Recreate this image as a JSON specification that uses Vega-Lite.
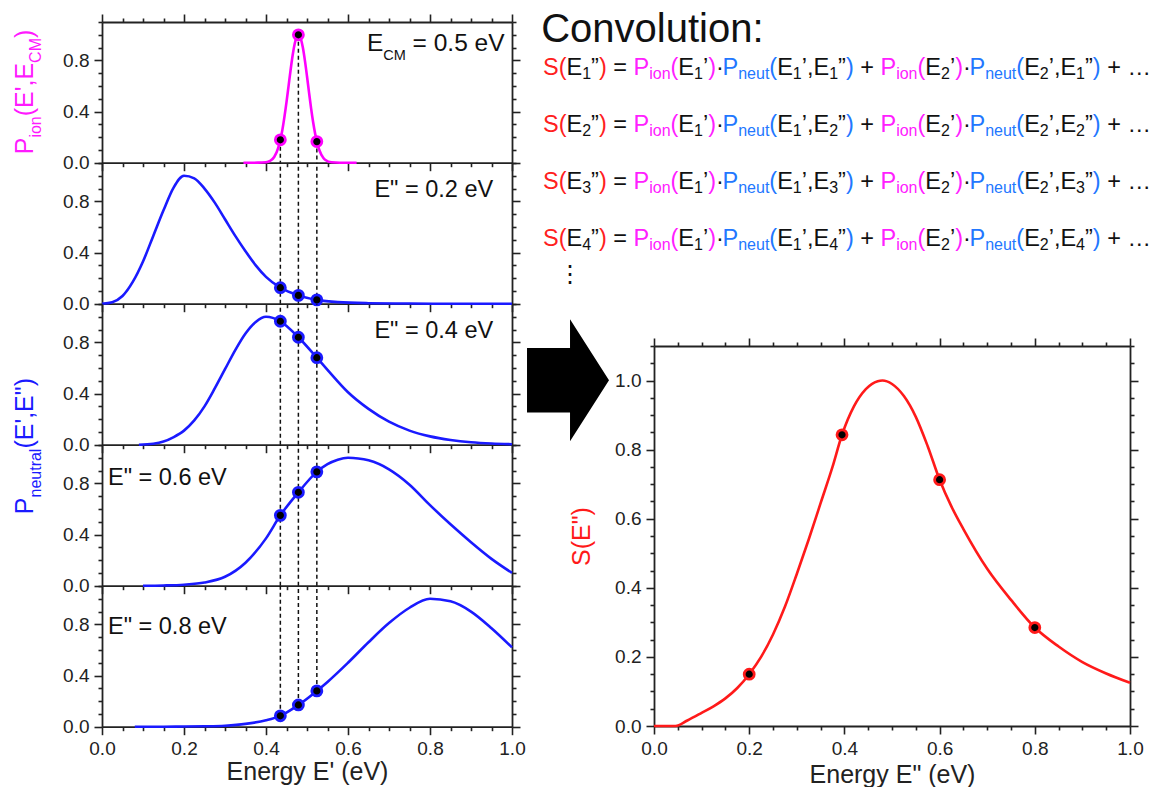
{
  "$schema": "https://vega.github.io/schema/vega-lite/v6.json",
  "padding": {"left": 13, "top": 9, "right": 0, "bottom": 0},
  "background": "white",
  "config": {
    "view": {"stroke": null},
    "font": "Liberation Sans",
    "axis": {
      "domainColor": "#222", "domainWidth": 1.8, "tickColor": "#222", "tickWidth": 1.6,
      "labelFont": "Liberation Sans", "labelFontSize": 19, "labelColor": "#222", "labelPadding": 5,
      "titleFont": "Liberation Sans", "titleFontSize": 25, "titleFontWeight": "normal", "titleColor": "#222",
      "grid": false, "labelFlush": false, "labelOverlap": false
    },
    "text": {"font": "Liberation Sans"}
  },
  "datasets": {
    "ion": [
      {"E":0.345,"P":0},{"E":0.38,"P":0.0002},{"E":0.4,"P":0.004},{"E":0.41,"P":0.0145},{"E":0.42,"P":0.045},
      {"E":0.43,"P":0.118},{"E":0.435,"P":0.179},{"E":0.44,"P":0.258},{"E":0.45,"P":0.473},{"E":0.455,"P":0.599},
      {"E":0.46,"P":0.725},{"E":0.465,"P":0.84},{"E":0.47,"P":0.93},{"E":0.475,"P":0.986},{"E":0.479,"P":1.0},
      {"E":0.485,"P":0.968},{"E":0.49,"P":0.898},{"E":0.495,"P":0.796},{"E":0.5,"P":0.676},{"E":0.505,"P":0.548},
      {"E":0.51,"P":0.425},{"E":0.515,"P":0.316},{"E":0.524,"P":0.165},{"E":0.53,"P":0.099},{"E":0.54,"P":0.037},
      {"E":0.545,"P":0.021},{"E":0.56,"P":0.003},{"E":0.58,"P":0},{"E":0.621,"P":0}
    ],
    "neutral": [
      {"panel":2,"E":0,"P":0},{"panel":2,"E":0.025,"P":0.012},{"panel":2,"E":0.05,"P":0.06},{"panel":2,"E":0.075,"P":0.17},
      {"panel":2,"E":0.1,"P":0.33},{"panel":2,"E":0.125,"P":0.53},{"panel":2,"E":0.15,"P":0.73},{"panel":2,"E":0.175,"P":0.91},
      {"panel":2,"E":0.2,"P":1.0},{"panel":2,"E":0.225,"P":0.98},{"panel":2,"E":0.25,"P":0.9},{"panel":2,"E":0.275,"P":0.79},
      {"panel":2,"E":0.3,"P":0.66},{"panel":2,"E":0.325,"P":0.53},{"panel":2,"E":0.35,"P":0.41},{"panel":2,"E":0.375,"P":0.3},
      {"panel":2,"E":0.4,"P":0.21},{"panel":2,"E":0.435,"P":0.125},{"panel":2,"E":0.479,"P":0.065},{"panel":2,"E":0.524,"P":0.03},
      {"panel":2,"E":0.575,"P":0.012},{"panel":2,"E":0.65,"P":0.004},{"panel":2,"E":0.75,"P":0.001},{"panel":2,"E":0.85,"P":0},{"panel":2,"E":1.0,"P":0},

      {"panel":3,"E":0.09,"P":0},{"panel":3,"E":0.125,"P":0.008},{"panel":3,"E":0.15,"P":0.025},{"panel":3,"E":0.175,"P":0.06},
      {"panel":3,"E":0.2,"P":0.11},{"panel":3,"E":0.225,"P":0.19},{"panel":3,"E":0.25,"P":0.3},{"panel":3,"E":0.275,"P":0.44},
      {"panel":3,"E":0.3,"P":0.59},{"panel":3,"E":0.325,"P":0.74},{"panel":3,"E":0.35,"P":0.87},{"panel":3,"E":0.375,"P":0.96},
      {"panel":3,"E":0.4,"P":1.0},{"panel":3,"E":0.435,"P":0.965},{"panel":3,"E":0.479,"P":0.84},{"panel":3,"E":0.524,"P":0.68},
      {"panel":3,"E":0.55,"P":0.585},{"panel":3,"E":0.6,"P":0.41},{"panel":3,"E":0.65,"P":0.28},{"panel":3,"E":0.7,"P":0.18},
      {"panel":3,"E":0.75,"P":0.11},{"panel":3,"E":0.8,"P":0.065},{"panel":3,"E":0.85,"P":0.037},{"panel":3,"E":0.9,"P":0.019},
      {"panel":3,"E":0.95,"P":0.009},{"panel":3,"E":1.0,"P":0.004},

      {"panel":4,"E":0.1,"P":0},{"panel":4,"E":0.15,"P":0.002},{"panel":4,"E":0.2,"P":0.008},{"panel":4,"E":0.25,"P":0.025},
      {"panel":4,"E":0.3,"P":0.07},{"panel":4,"E":0.35,"P":0.18},{"panel":4,"E":0.4,"P":0.37},{"panel":4,"E":0.435,"P":0.55},
      {"panel":4,"E":0.479,"P":0.73},{"panel":4,"E":0.524,"P":0.89},{"panel":4,"E":0.55,"P":0.95},{"panel":4,"E":0.575,"P":0.985},
      {"panel":4,"E":0.6,"P":1.0},{"panel":4,"E":0.625,"P":0.995},{"panel":4,"E":0.65,"P":0.98},{"panel":4,"E":0.7,"P":0.91},
      {"panel":4,"E":0.75,"P":0.79},{"panel":4,"E":0.8,"P":0.63},{"panel":4,"E":0.85,"P":0.48},{"panel":4,"E":0.9,"P":0.34},
      {"panel":4,"E":0.95,"P":0.21},{"panel":4,"E":1.0,"P":0.1},

      {"panel":5,"E":0.08,"P":0},{"panel":5,"E":0.15,"P":0},{"panel":5,"E":0.2,"P":0.001},{"panel":5,"E":0.25,"P":0.003},
      {"panel":5,"E":0.3,"P":0.008},{"panel":5,"E":0.35,"P":0.022},{"panel":5,"E":0.4,"P":0.05},{"panel":5,"E":0.435,"P":0.085},
      {"panel":5,"E":0.479,"P":0.17},{"panel":5,"E":0.524,"P":0.28},{"panel":5,"E":0.55,"P":0.35},{"panel":5,"E":0.6,"P":0.5},
      {"panel":5,"E":0.65,"P":0.66},{"panel":5,"E":0.7,"P":0.81},{"panel":5,"E":0.75,"P":0.93},{"panel":5,"E":0.8,"P":1.0},
      {"panel":5,"E":0.85,"P":0.98},{"panel":5,"E":0.9,"P":0.9},{"panel":5,"E":0.95,"P":0.77},{"panel":5,"E":1.0,"P":0.62}
    ],
    "samples": [
      {"panel":1,"E":0.435,"P":0.179},{"panel":1,"E":0.479,"P":1.0},{"panel":1,"E":0.524,"P":0.165},
      {"panel":2,"E":0.435,"P":0.125},{"panel":2,"E":0.479,"P":0.065},{"panel":2,"E":0.524,"P":0.03},
      {"panel":3,"E":0.435,"P":0.965},{"panel":3,"E":0.479,"P":0.84},{"panel":3,"E":0.524,"P":0.68},
      {"panel":4,"E":0.435,"P":0.55},{"panel":4,"E":0.479,"P":0.73},{"panel":4,"E":0.524,"P":0.89},
      {"panel":5,"E":0.435,"P":0.085},{"panel":5,"E":0.479,"P":0.17},{"panel":5,"E":0.524,"P":0.28}
    ],
    "guides": [
      {"E":0.435,"p1":0.179,"p5":0.085},{"E":0.479,"p1":1.0,"p5":0.17},{"E":0.524,"p1":0.165,"p5":0.28}
    ],
    "sconv": [
      {"E":0,"S":0},{"E":0.045,"S":0},{"E":0.07,"S":0.016},{"E":0.1,"S":0.038},{"E":0.125,"S":0.057},{"E":0.15,"S":0.08},
      {"E":0.175,"S":0.11},{"E":0.2,"S":0.15},{"E":0.225,"S":0.2},{"E":0.25,"S":0.265},{"E":0.275,"S":0.345},{"E":0.3,"S":0.44},
      {"E":0.325,"S":0.54},{"E":0.35,"S":0.645},{"E":0.375,"S":0.75},{"E":0.395,"S":0.843},{"E":0.42,"S":0.925},{"E":0.445,"S":0.975},
      {"E":0.47,"S":0.998},{"E":0.48,"S":1.0},{"E":0.5,"S":0.99},{"E":0.525,"S":0.955},{"E":0.55,"S":0.895},{"E":0.575,"S":0.81},
      {"E":0.6,"S":0.713},{"E":0.625,"S":0.635},{"E":0.65,"S":0.57},{"E":0.7,"S":0.455},{"E":0.75,"S":0.365},{"E":0.8,"S":0.285},
      {"E":0.85,"S":0.23},{"E":0.9,"S":0.185},{"E":0.95,"S":0.152},{"E":1.0,"S":0.125}
    ],
    "spoints": [
      {"E":0.2,"S":0.15},{"E":0.395,"S":0.843},{"E":0.6,"S":0.713},{"E":0.8,"S":0.285}
    ],
    "eq": [
      {"t":"S(","x":0,"role":"S","sub":0,"line":[1,2,3,4]},
      {"t":"E","x":1000,"role":"plain","sub":0,"line":[1,2,3,4]},
      {"t":"","x":1667,"role":"plain","sub":1,"var":1,"line":[1,2,3,4]},
      {"t":"”","x":2046,"role":"plain","sub":0,"line":[1,2,3,4]},
      {"t":")","x":2379,"role":"S","sub":0,"line":[1,2,3,4]},
      {"t":"=","x":2990,"role":"plain","sub":0,"line":[1,2,3,4]},
      {"t":"P","x":3852,"role":"ion","sub":0,"line":[1,2,3,4]},
      {"t":"ion","x":4519,"role":"ion","sub":1,"line":[1,2,3,4]},
      {"t":"(","x":5427,"role":"ion","sub":0,"line":[1,2,3,4]},
      {"t":"E","x":5760,"role":"plain","sub":0,"line":[1,2,3,4]},
      {"t":"1","x":6427,"role":"plain","sub":1,"line":[1,2,3,4]},
      {"t":"’","x":6806,"role":"plain","sub":0,"line":[1,2,3,4]},
      {"t":")","x":7028,"role":"ion","sub":0,"line":[1,2,3,4]},
      {"t":"·","x":7361,"role":"plain","sub":0,"line":[1,2,3,4]},
      {"t":"P","x":7639,"role":"neut","sub":0,"line":[1,2,3,4]},
      {"t":"neut","x":8306,"role":"neut","sub":1,"line":[1,2,3,4]},
      {"t":"(","x":9631,"role":"neut","sub":0,"line":[1,2,3,4]},
      {"t":"E","x":9964,"role":"plain","sub":0,"line":[1,2,3,4]},
      {"t":"1","x":10631,"role":"plain","sub":1,"line":[1,2,3,4]},
      {"t":"’,E","x":11009,"role":"plain","sub":0,"line":[1,2,3,4]},
      {"t":"","x":12176,"role":"plain","sub":1,"var":1,"line":[1,2,3,4]},
      {"t":"”","x":12555,"role":"plain","sub":0,"line":[1,2,3,4]},
      {"t":")","x":12888,"role":"neut","sub":0,"line":[1,2,3,4]},
      {"t":"+","x":13499,"role":"plain","sub":0,"line":[1,2,3,4]},
      {"t":"P","x":14361,"role":"ion","sub":0,"line":[1,2,3,4]},
      {"t":"ion","x":15028,"role":"ion","sub":1,"line":[1,2,3,4]},
      {"t":"(","x":15936,"role":"ion","sub":0,"line":[1,2,3,4]},
      {"t":"E","x":16269,"role":"plain","sub":0,"line":[1,2,3,4]},
      {"t":"2","x":16936,"role":"plain","sub":1,"line":[1,2,3,4]},
      {"t":"’","x":17315,"role":"plain","sub":0,"line":[1,2,3,4]},
      {"t":")","x":17537,"role":"ion","sub":0,"line":[1,2,3,4]},
      {"t":"·","x":17870,"role":"plain","sub":0,"line":[1,2,3,4]},
      {"t":"P","x":18148,"role":"neut","sub":0,"line":[1,2,3,4]},
      {"t":"neut","x":18815,"role":"neut","sub":1,"line":[1,2,3,4]},
      {"t":"(","x":20140,"role":"neut","sub":0,"line":[1,2,3,4]},
      {"t":"E","x":20473,"role":"plain","sub":0,"line":[1,2,3,4]},
      {"t":"2","x":21140,"role":"plain","sub":1,"line":[1,2,3,4]},
      {"t":"’,E","x":21518,"role":"plain","sub":0,"line":[1,2,3,4]},
      {"t":"","x":22685,"role":"plain","sub":1,"var":1,"line":[1,2,3,4]},
      {"t":"”","x":23064,"role":"plain","sub":0,"line":[1,2,3,4]},
      {"t":")","x":23397,"role":"neut","sub":0,"line":[1,2,3,4]},
      {"t":"+ …","x":24008,"role":"plain","sub":0,"line":[1,2,3,4]}
    ]
  },
  "hconcat": [
    {
      "vconcat": [
        {
          "width": 410, "height": 140.7,
          "resolve": {"axis": {"x": "independent", "y": "independent"}},
          "layer": [
            {
              "data": {"name": "guides"},
              "mark": {"type": "rule", "color": "#111", "strokeWidth": 1.5, "strokeDash": [4, 3]},
              "encoding": {
                "x": {"field": "E", "type": "quantitative", "scale": {"domain": [0, 1], "nice": false}, "axis": null},
                "y": {"field": "p1", "type": "quantitative", "scale": {"domain": [0, 1.1], "nice": false}, "axis": null},
                "y2": {"datum": 0}
              }
            },
            {
              "data": {"name": "ion"},
              "mark": {"type": "line", "color": "#ff00ff", "strokeWidth": 2.6, "interpolate": "monotone"},
              "encoding": {
                "x": {"field": "E", "type": "quantitative", "scale": {"domain": [0, 1], "nice": false},
                  "axis": {"orient": "bottom", "values": [0,0.05,0.1,0.15,0.2,0.25,0.3,0.35,0.4,0.45,0.5,0.55,0.6,0.65,0.7,0.75,0.8,0.85,0.9,0.95,1], "labels": false, "title": null,
                    "tickSize": {"condition": {"test": "abs(datum.value*5-round(datum.value*5))<0.001", "value": 8}, "value": 4}}},
                "y": {"field": "P", "type": "quantitative", "scale": {"domain": [0, 1.1], "nice": false},
                  "axis": {"orient": "left", "values": [0,0.1,0.2,0.3,0.4,0.5,0.6,0.7,0.8,0.9,1,1.1], "title": null,
                    "labelExpr": "abs(datum.value*2.5-round(datum.value*2.5))<0.001 ? format(datum.value,'.1f') : ''",
                    "tickSize": {"condition": {"test": "abs(datum.value*2.5-round(datum.value*2.5))<0.001", "value": 8}, "value": 4}}}
              }
            },
            {
              "data": {"name": "samples"},
              "transform": [{"filter": "datum.panel == 1"}],
              "mark": {"type": "point", "filled": true, "fill": "#000", "stroke": "#ff00ff", "strokeWidth": 2.8, "size": 100, "opacity": 1},
              "encoding": {
                "x": {"field": "E", "type": "quantitative", "scale": {"domain": [0, 1], "nice": false},
                  "axis": {"orient": "top", "values": [0,0.05,0.1,0.15,0.2,0.25,0.3,0.35,0.4,0.45,0.5,0.55,0.6,0.65,0.7,0.75,0.8,0.85,0.9,0.95,1], "labels": false, "title": null,
                    "tickSize": {"condition": {"test": "abs(datum.value*5-round(datum.value*5))<0.001", "value": 8}, "value": 4}}},
                "y": {"field": "P", "type": "quantitative", "scale": {"domain": [0, 1.1], "nice": false},
                  "axis": {"orient": "right", "values": [0,0.1,0.2,0.3,0.4,0.5,0.6,0.7,0.8,0.9,1,1.1], "labels": false, "title": null,
                    "tickSize": {"condition": {"test": "abs(datum.value*2.5-round(datum.value*2.5))<0.001", "value": 8}, "value": 4}}}
              }
            },
            {
              "data": {"values": [{"t": "E", "at": 0.6463}, {"t": "= 0.5 eV", "at": 0.7576}]},
              "mark": {"type": "text", "fontSize": 24.5, "align": "left", "baseline": "alphabetic", "color": "#111"},
              "encoding": {
                "x": {"field": "at", "type": "quantitative", "scale": {"domain": [0, 1], "nice": false}, "axis": null},
                "y": {"datum": 0.871, "type": "quantitative", "scale": {"domain": [0, 1.1], "nice": false}, "axis": null},
                "text": {"field": "t"}
              }
            },
            {
              "data": {"values": [{"t": "CM", "at": 0.6861}]},
              "mark": {"type": "text", "fontSize": 14.5, "align": "left", "baseline": "alphabetic", "dy": 9, "color": "#111"},
              "encoding": {
                "x": {"field": "at", "type": "quantitative", "scale": {"domain": [0, 1], "nice": false}, "axis": null},
                "y": {"datum": 0.871, "type": "quantitative", "scale": {"domain": [0, 1.1], "nice": false}, "axis": null},
                "text": {"field": "t"}
              }
            },
            {
              "data": {"values": [{"t": "P", "at": 0.0657}, {"t": "(E',E", "at": 0.3628}, {"t": ")", "at": 0.9749}]},
              "mark": {"type": "text", "fontSize": 25, "angle": 270, "align": "left", "baseline": "alphabetic", "color": "#ff1aff"},
              "encoding": {
                "x": {"datum": -0.1671, "type": "quantitative", "scale": {"domain": [0, 1], "nice": false}, "axis": null},
                "y": {"field": "at", "type": "quantitative", "scale": {"domain": [0, 1.1], "nice": false}, "axis": null},
                "text": {"field": "t"}
              }
            },
            {
              "data": {"values": [{"t": "ion", "at": 0.1962}, {"t": "CM", "at": 0.7802}]},
              "mark": {"type": "text", "fontSize": 16, "angle": 270, "align": "left", "baseline": "alphabetic", "dy": 8, "color": "#ff1aff"},
              "encoding": {
                "x": {"datum": -0.1671, "type": "quantitative", "scale": {"domain": [0, 1], "nice": false}, "axis": null},
                "y": {"field": "at", "type": "quantitative", "scale": {"domain": [0, 1.1], "nice": false}, "axis": null},
                "text": {"field": "t"}
              }
            }
          ]
        },
        {
          "width": 410, "height": 140.7,
          "resolve": {"axis": {"x": "independent", "y": "independent"}},
          "layer": [
            {
              "data": {"name": "guides"},
              "mark": {"type": "rule", "color": "#111", "strokeWidth": 1.5, "strokeDash": [4, 3]},
              "encoding": {
                "x": {"field": "E", "type": "quantitative", "scale": {"domain": [0, 1], "nice": false}, "axis": null},
                "y": {"datum": 0, "type": "quantitative", "scale": {"domain": [0, 1.1], "nice": false}, "axis": null},
                "y2": {"datum": 1.1}
              }
            },
            {
              "data": {"name": "neutral"},
              "transform": [{"filter": "datum.panel == 2"}],
              "mark": {"type": "line", "color": "#1a1aff", "strokeWidth": 2.6, "interpolate": "monotone"},
              "encoding": {
                "x": {"field": "E", "type": "quantitative", "scale": {"domain": [0, 1], "nice": false},
                  "axis": {"orient": "bottom", "values": [0,0.05,0.1,0.15,0.2,0.25,0.3,0.35,0.4,0.45,0.5,0.55,0.6,0.65,0.7,0.75,0.8,0.85,0.9,0.95,1], "labels": false, "title": null,
                    "tickSize": {"condition": {"test": "abs(datum.value*5-round(datum.value*5))<0.001", "value": 8}, "value": 4}}},
                "y": {"field": "P", "type": "quantitative", "scale": {"domain": [0, 1.1], "nice": false},
                  "axis": {"orient": "left", "values": [0,0.1,0.2,0.3,0.4,0.5,0.6,0.7,0.8,0.9,1,1.1], "title": null,
                    "labelExpr": "abs(datum.value*2.5-round(datum.value*2.5))<0.001 ? format(datum.value,'.1f') : ''",
                    "tickSize": {"condition": {"test": "abs(datum.value*2.5-round(datum.value*2.5))<0.001", "value": 8}, "value": 4}}}
              }
            },
            {
              "data": {"name": "samples"},
              "transform": [{"filter": "datum.panel == 2"}],
              "mark": {"type": "point", "filled": true, "fill": "#000", "stroke": "#1a1aff", "strokeWidth": 2.8, "size": 100, "opacity": 1},
              "encoding": {
                "x": {"field": "E", "type": "quantitative", "scale": {"domain": [0, 1], "nice": false}, "axis": null},
                "y": {"field": "P", "type": "quantitative", "scale": {"domain": [0, 1.1], "nice": false},
                  "axis": {"orient": "right", "values": [0,0.1,0.2,0.3,0.4,0.5,0.6,0.7,0.8,0.9,1,1.1], "labels": false, "title": null,
                    "tickSize": {"condition": {"test": "abs(datum.value*2.5-round(datum.value*2.5))<0.001", "value": 8}, "value": 4}}}
              }
            },
            {
              "data": {"values": [{"t": "E\" = 0.2 eV"}]},
              "mark": {"type": "text", "fontSize": 23.5, "align": "right", "baseline": "alphabetic", "color": "#111"},
              "encoding": {
                "x": {"datum": 0.954, "type": "quantitative", "scale": {"domain": [0, 1], "nice": false}, "axis": null},
                "y": {"datum": 0.836, "type": "quantitative", "scale": {"domain": [0, 1.1], "nice": false}, "axis": null},
                "text": {"field": "t"}
              }
            }
          ]
        },
        {
          "width": 410, "height": 140.7,
          "resolve": {"axis": {"x": "independent", "y": "independent"}},
          "layer": [
            {
              "data": {"name": "guides"},
              "mark": {"type": "rule", "color": "#111", "strokeWidth": 1.5, "strokeDash": [4, 3]},
              "encoding": {
                "x": {"field": "E", "type": "quantitative", "scale": {"domain": [0, 1], "nice": false}, "axis": null},
                "y": {"datum": 0, "type": "quantitative", "scale": {"domain": [0, 1.1], "nice": false}, "axis": null},
                "y2": {"datum": 1.1}
              }
            },
            {
              "data": {"name": "neutral"},
              "transform": [{"filter": "datum.panel == 3"}],
              "mark": {"type": "line", "color": "#1a1aff", "strokeWidth": 2.6, "interpolate": "monotone"},
              "encoding": {
                "x": {"field": "E", "type": "quantitative", "scale": {"domain": [0, 1], "nice": false},
                  "axis": {"orient": "bottom", "values": [0,0.05,0.1,0.15,0.2,0.25,0.3,0.35,0.4,0.45,0.5,0.55,0.6,0.65,0.7,0.75,0.8,0.85,0.9,0.95,1], "labels": false, "title": null,
                    "tickSize": {"condition": {"test": "abs(datum.value*5-round(datum.value*5))<0.001", "value": 8}, "value": 4}}},
                "y": {"field": "P", "type": "quantitative", "scale": {"domain": [0, 1.1], "nice": false},
                  "axis": {"orient": "left", "values": [0,0.1,0.2,0.3,0.4,0.5,0.6,0.7,0.8,0.9,1,1.1], "title": null,
                    "labelExpr": "abs(datum.value*2.5-round(datum.value*2.5))<0.001 ? format(datum.value,'.1f') : ''",
                    "tickSize": {"condition": {"test": "abs(datum.value*2.5-round(datum.value*2.5))<0.001", "value": 8}, "value": 4}}}
              }
            },
            {
              "data": {"name": "samples"},
              "transform": [{"filter": "datum.panel == 3"}],
              "mark": {"type": "point", "filled": true, "fill": "#000", "stroke": "#1a1aff", "strokeWidth": 2.8, "size": 100, "opacity": 1},
              "encoding": {
                "x": {"field": "E", "type": "quantitative", "scale": {"domain": [0, 1], "nice": false}, "axis": null},
                "y": {"field": "P", "type": "quantitative", "scale": {"domain": [0, 1.1], "nice": false},
                  "axis": {"orient": "right", "values": [0,0.1,0.2,0.3,0.4,0.5,0.6,0.7,0.8,0.9,1,1.1], "labels": false, "title": null,
                    "tickSize": {"condition": {"test": "abs(datum.value*2.5-round(datum.value*2.5))<0.001", "value": 8}, "value": 4}}}
              }
            },
            {
              "data": {"values": [{"t": "E\" = 0.4 eV"}]},
              "mark": {"type": "text", "fontSize": 23.5, "align": "right", "baseline": "alphabetic", "color": "#111"},
              "encoding": {
                "x": {"datum": 0.954, "type": "quantitative", "scale": {"domain": [0, 1], "nice": false}, "axis": null},
                "y": {"datum": 0.835, "type": "quantitative", "scale": {"domain": [0, 1.1], "nice": false}, "axis": null},
                "text": {"field": "t"}
              }
            }
          ]
        },
        {
          "width": 410, "height": 140.7,
          "resolve": {"axis": {"x": "independent", "y": "independent"}},
          "layer": [
            {
              "data": {"name": "guides"},
              "mark": {"type": "rule", "color": "#111", "strokeWidth": 1.5, "strokeDash": [4, 3]},
              "encoding": {
                "x": {"field": "E", "type": "quantitative", "scale": {"domain": [0, 1], "nice": false}, "axis": null},
                "y": {"datum": 0, "type": "quantitative", "scale": {"domain": [0, 1.1], "nice": false}, "axis": null},
                "y2": {"datum": 1.1}
              }
            },
            {
              "data": {"name": "neutral"},
              "transform": [{"filter": "datum.panel == 4"}],
              "mark": {"type": "line", "color": "#1a1aff", "strokeWidth": 2.6, "interpolate": "monotone"},
              "encoding": {
                "x": {"field": "E", "type": "quantitative", "scale": {"domain": [0, 1], "nice": false},
                  "axis": {"orient": "bottom", "values": [0,0.05,0.1,0.15,0.2,0.25,0.3,0.35,0.4,0.45,0.5,0.55,0.6,0.65,0.7,0.75,0.8,0.85,0.9,0.95,1], "labels": false, "title": null,
                    "tickSize": {"condition": {"test": "abs(datum.value*5-round(datum.value*5))<0.001", "value": 8}, "value": 4}}},
                "y": {"field": "P", "type": "quantitative", "scale": {"domain": [0, 1.1], "nice": false},
                  "axis": {"orient": "left", "values": [0,0.1,0.2,0.3,0.4,0.5,0.6,0.7,0.8,0.9,1,1.1], "title": null,
                    "labelExpr": "abs(datum.value*2.5-round(datum.value*2.5))<0.001 ? format(datum.value,'.1f') : ''",
                    "tickSize": {"condition": {"test": "abs(datum.value*2.5-round(datum.value*2.5))<0.001", "value": 8}, "value": 4}}}
              }
            },
            {
              "data": {"name": "samples"},
              "transform": [{"filter": "datum.panel == 4"}],
              "mark": {"type": "point", "filled": true, "fill": "#000", "stroke": "#1a1aff", "strokeWidth": 2.8, "size": 100, "opacity": 1},
              "encoding": {
                "x": {"field": "E", "type": "quantitative", "scale": {"domain": [0, 1], "nice": false}, "axis": null},
                "y": {"field": "P", "type": "quantitative", "scale": {"domain": [0, 1.1], "nice": false},
                  "axis": {"orient": "right", "values": [0,0.1,0.2,0.3,0.4,0.5,0.6,0.7,0.8,0.9,1,1.1], "labels": false, "title": null,
                    "tickSize": {"condition": {"test": "abs(datum.value*2.5-round(datum.value*2.5))<0.001", "value": 8}, "value": 4}}}
              }
            },
            {
              "data": {"values": [{"t": "E\" = 0.6 eV"}]},
              "mark": {"type": "text", "fontSize": 23.5, "align": "left", "baseline": "alphabetic", "color": "#111"},
              "encoding": {
                "x": {"datum": 0.0146, "type": "quantitative", "scale": {"domain": [0, 1], "nice": false}, "axis": null},
                "y": {"datum": 0.786, "type": "quantitative", "scale": {"domain": [0, 1.1], "nice": false}, "axis": null},
                "text": {"field": "t"}
              }
            },
            {
              "data": {"values": [{"t": "P", "at": 0.559}, {"t": "(E',E\")", "at": 1.0719}]},
              "mark": {"type": "text", "fontSize": 25, "angle": 270, "align": "left", "baseline": "alphabetic", "color": "#1a1aff"},
              "encoding": {
                "x": {"datum": -0.1671, "type": "quantitative", "scale": {"domain": [0, 1], "nice": false}, "axis": null},
                "y": {"field": "at", "type": "quantitative", "scale": {"domain": [0, 1.1], "nice": false}, "axis": null},
                "text": {"field": "t"}
              }
            },
            {
              "data": {"values": [{"t": "neutral", "at": 0.6896}]},
              "mark": {"type": "text", "fontSize": 16, "angle": 270, "align": "left", "baseline": "alphabetic", "dy": 8, "color": "#1a1aff"},
              "encoding": {
                "x": {"datum": -0.1671, "type": "quantitative", "scale": {"domain": [0, 1], "nice": false}, "axis": null},
                "y": {"field": "at", "type": "quantitative", "scale": {"domain": [0, 1.1], "nice": false}, "axis": null},
                "text": {"field": "t"}
              }
            }
          ]
        },
        {
          "width": 410, "height": 140.7,
          "resolve": {"axis": {"x": "independent", "y": "independent"}},
          "layer": [
            {
              "data": {"name": "guides"},
              "mark": {"type": "rule", "color": "#111", "strokeWidth": 1.5, "strokeDash": [4, 3]},
              "encoding": {
                "x": {"field": "E", "type": "quantitative", "scale": {"domain": [0, 1], "nice": false}, "axis": null},
                "y": {"field": "p5", "type": "quantitative", "scale": {"domain": [0, 1.1], "nice": false}, "axis": null},
                "y2": {"datum": 1.1}
              }
            },
            {
              "data": {"name": "neutral"},
              "transform": [{"filter": "datum.panel == 5"}],
              "mark": {"type": "line", "color": "#1a1aff", "strokeWidth": 2.6, "interpolate": "monotone"},
              "encoding": {
                "x": {"field": "E", "type": "quantitative", "scale": {"domain": [0, 1], "nice": false},
                  "axis": {"orient": "bottom", "values": [0,0.05,0.1,0.15,0.2,0.25,0.3,0.35,0.4,0.45,0.5,0.55,0.6,0.65,0.7,0.75,0.8,0.85,0.9,0.95,1], "title": "Energy E' (eV)", "titlePadding": 1,
                    "labelExpr": "abs(datum.value*5-round(datum.value*5))<0.001 ? format(datum.value,'.1f') : ''",
                    "tickSize": {"condition": {"test": "abs(datum.value*5-round(datum.value*5))<0.001", "value": 8}, "value": 4}}},
                "y": {"field": "P", "type": "quantitative", "scale": {"domain": [0, 1.1], "nice": false},
                  "axis": {"orient": "left", "values": [0,0.1,0.2,0.3,0.4,0.5,0.6,0.7,0.8,0.9,1,1.1], "title": null,
                    "labelExpr": "abs(datum.value*2.5-round(datum.value*2.5))<0.001 ? format(datum.value,'.1f') : ''",
                    "tickSize": {"condition": {"test": "abs(datum.value*2.5-round(datum.value*2.5))<0.001", "value": 8}, "value": 4}}}
              }
            },
            {
              "data": {"name": "samples"},
              "transform": [{"filter": "datum.panel == 5"}],
              "mark": {"type": "point", "filled": true, "fill": "#000", "stroke": "#1a1aff", "strokeWidth": 2.8, "size": 100, "opacity": 1},
              "encoding": {
                "x": {"field": "E", "type": "quantitative", "scale": {"domain": [0, 1], "nice": false}, "axis": null},
                "y": {"field": "P", "type": "quantitative", "scale": {"domain": [0, 1.1], "nice": false},
                  "axis": {"orient": "right", "values": [0,0.1,0.2,0.3,0.4,0.5,0.6,0.7,0.8,0.9,1,1.1], "labels": false, "title": null,
                    "tickSize": {"condition": {"test": "abs(datum.value*2.5-round(datum.value*2.5))<0.001", "value": 8}, "value": 4}}}
              }
            },
            {
              "data": {"values": [{"t": "E\" = 0.8 eV"}]},
              "mark": {"type": "text", "fontSize": 23.5, "align": "left", "baseline": "alphabetic", "color": "#111"},
              "encoding": {
                "x": {"datum": 0.0146, "type": "quantitative", "scale": {"domain": [0, 1], "nice": false}, "axis": null},
                "y": {"datum": 0.721, "type": "quantitative", "scale": {"domain": [0, 1.1], "nice": false}, "axis": null},
                "text": {"field": "t"}
              }
            }
          ]
        }
      ],
      "spacing": 0,
      "bounds": "flush"
    },
    {
      "vconcat": [
        {
          "width": 476, "height": 323.3,
          "layer": [
            {
              "data": {"values": [{"t": "Convolution:"}]},
              "mark": {"type": "text", "fontSize": 40, "align": "left", "baseline": "alphabetic", "color": "#111"},
              "encoding": {
                "x": {"datum": -80, "type": "quantitative", "scale": {"domain": [4723, 24978], "nice": false, "zero": false}, "axis": null},
                "y": {"datum": 0.42, "type": "quantitative", "scale": {"domain": [0.0702, 5.7422], "nice": false, "zero": false, "reverse": true}, "axis": null},
                "text": {"field": "t"}
              }
            },
            {
              "data": {"name": "eq"},
              "transform": [{"flatten": ["line"]}, {"filter": "datum.sub == 0"}],
              "mark": {"type": "text", "fontSize": 23.5, "align": "left", "baseline": "alphabetic"},
              "encoding": {
                "x": {"field": "x", "type": "quantitative", "scale": {"domain": [4723, 24978], "nice": false, "zero": false}, "axis": null},
                "y": {"field": "line", "type": "quantitative", "scale": {"domain": [0.0702, 5.7422], "nice": false, "zero": false, "reverse": true}, "axis": null},
                "text": {"field": "t"},
                "color": {"field": "role", "type": "nominal", "legend": null,
                  "scale": {"domain": ["S", "ion", "neut", "plain"], "range": ["#ff2020", "#ff20ff", "#2277ff", "#111111"]}}
              }
            },
            {
              "data": {"name": "eq"},
              "transform": [{"flatten": ["line"]}, {"filter": "datum.sub == 1"}],
              "mark": {"type": "text", "fontSize": 16, "align": "left", "baseline": "alphabetic", "dy": 4},
              "encoding": {
                "x": {"field": "x", "type": "quantitative", "scale": {"domain": [4723, 24978], "nice": false, "zero": false}, "axis": null},
                "y": {"field": "line", "type": "quantitative", "scale": {"domain": [0.0702, 5.7422], "nice": false, "zero": false, "reverse": true}, "axis": null},
                "text": {"condition": {"test": "datum.var == 1", "field": "line", "type": "nominal"}, "field": "t", "type": "nominal"},
                "color": {"field": "role", "type": "nominal", "legend": null,
                  "scale": {"domain": ["S", "ion", "neut", "plain"], "range": ["#ff2020", "#ff20ff", "#2277ff", "#111111"]}}
              }
            },
            {
              "data": {"values": [{"t": "⋮"}]},
              "mark": {"type": "text", "fontSize": 24, "align": "center", "baseline": "middle", "color": "#111"},
              "encoding": {
                "x": {"datum": 1149, "type": "quantitative", "scale": {"domain": [4723, 24978], "nice": false, "zero": false}, "axis": null},
                "y": {"datum": 4.514, "type": "quantitative", "scale": {"domain": [0.0702, 5.7422], "nice": false, "zero": false, "reverse": true}, "axis": null},
                "text": {"field": "t"}
              }
            },
            {
              "data": {"values": [{"name": "arrow"}]},
              "mark": {"type": "point", "filled": true, "color": "#000", "opacity": 1, "size": 14884,
                "shape": "M-0.672,-0.53L0.033,-0.53L0.033,-1L0.672,0L0.033,1L0.033,0.53L-0.672,0.53Z"},
              "encoding": {
                "x": {"datum": 1064, "type": "quantitative", "scale": {"domain": [4723, 24978], "nice": false, "zero": false}, "axis": null},
                "y": {"datum": 6.356, "type": "quantitative", "scale": {"domain": [0.0702, 5.7422], "nice": false, "zero": false, "reverse": true}, "axis": null}
              }
            }
          ]
        },
        {
          "width": 476, "height": 380,
          "resolve": {"axis": {"x": "independent", "y": "independent"}},
          "layer": [
            {
              "data": {"name": "sconv"},
              "mark": {"type": "line", "color": "#ff1a1a", "strokeWidth": 2.6, "interpolate": "monotone"},
              "encoding": {
                "x": {"field": "E", "type": "quantitative", "scale": {"domain": [0, 1], "nice": false},
                  "axis": {"orient": "bottom", "values": [0,0.05,0.1,0.15,0.2,0.25,0.3,0.35,0.4,0.45,0.5,0.55,0.6,0.65,0.7,0.75,0.8,0.85,0.9,0.95,1], "title": "Energy E\" (eV)", "titlePadding": 4,
                    "labelExpr": "abs(datum.value*5-round(datum.value*5))<0.001 ? format(datum.value,'.1f') : ''",
                    "tickSize": {"condition": {"test": "abs(datum.value*5-round(datum.value*5))<0.001", "value": 8}, "value": 4}}},
                "y": {"field": "S", "type": "quantitative", "scale": {"domain": [0, 1.1], "nice": false},
                  "axis": {"orient": "left", "values": [0,0.05,0.1,0.15,0.2,0.25,0.3,0.35,0.4,0.45,0.5,0.55,0.6,0.65,0.7,0.75,0.8,0.85,0.9,0.95,1,1.05,1.1], "title": "S(E\")", "titleColor": "#ff1a1a", "titlePadding": 20,
                    "labelExpr": "abs(datum.value*5-round(datum.value*5))<0.001 ? format(datum.value,'.1f') : ''",
                    "tickSize": {"condition": {"test": "abs(datum.value*5-round(datum.value*5))<0.001", "value": 8}, "value": 4}}}
              }
            },
            {
              "data": {"name": "spoints"},
              "mark": {"type": "point", "filled": true, "fill": "#000", "stroke": "#ff1a1a", "strokeWidth": 2.8, "size": 100, "opacity": 1},
              "encoding": {
                "x": {"field": "E", "type": "quantitative", "scale": {"domain": [0, 1], "nice": false},
                  "axis": {"orient": "top", "values": [0,0.05,0.1,0.15,0.2,0.25,0.3,0.35,0.4,0.45,0.5,0.55,0.6,0.65,0.7,0.75,0.8,0.85,0.9,0.95,1], "labels": false, "title": null,
                    "tickSize": {"condition": {"test": "abs(datum.value*5-round(datum.value*5))<0.001", "value": 8}, "value": 4}}},
                "y": {"field": "S", "type": "quantitative", "scale": {"domain": [0, 1.1], "nice": false},
                  "axis": {"orient": "right", "values": [0,0.05,0.1,0.15,0.2,0.25,0.3,0.35,0.4,0.45,0.5,0.55,0.6,0.65,0.7,0.75,0.8,0.85,0.9,0.95,1,1.05,1.1], "labels": false, "title": null,
                    "tickSize": {"condition": {"test": "abs(datum.value*5-round(datum.value*5))<0.001", "value": 8}, "value": 4}}}
              }
            }
          ]
        }
      ],
      "spacing": 0,
      "bounds": "flush"
    }
  ],
  "spacing": 552,
  "bounds": "flush"
}
